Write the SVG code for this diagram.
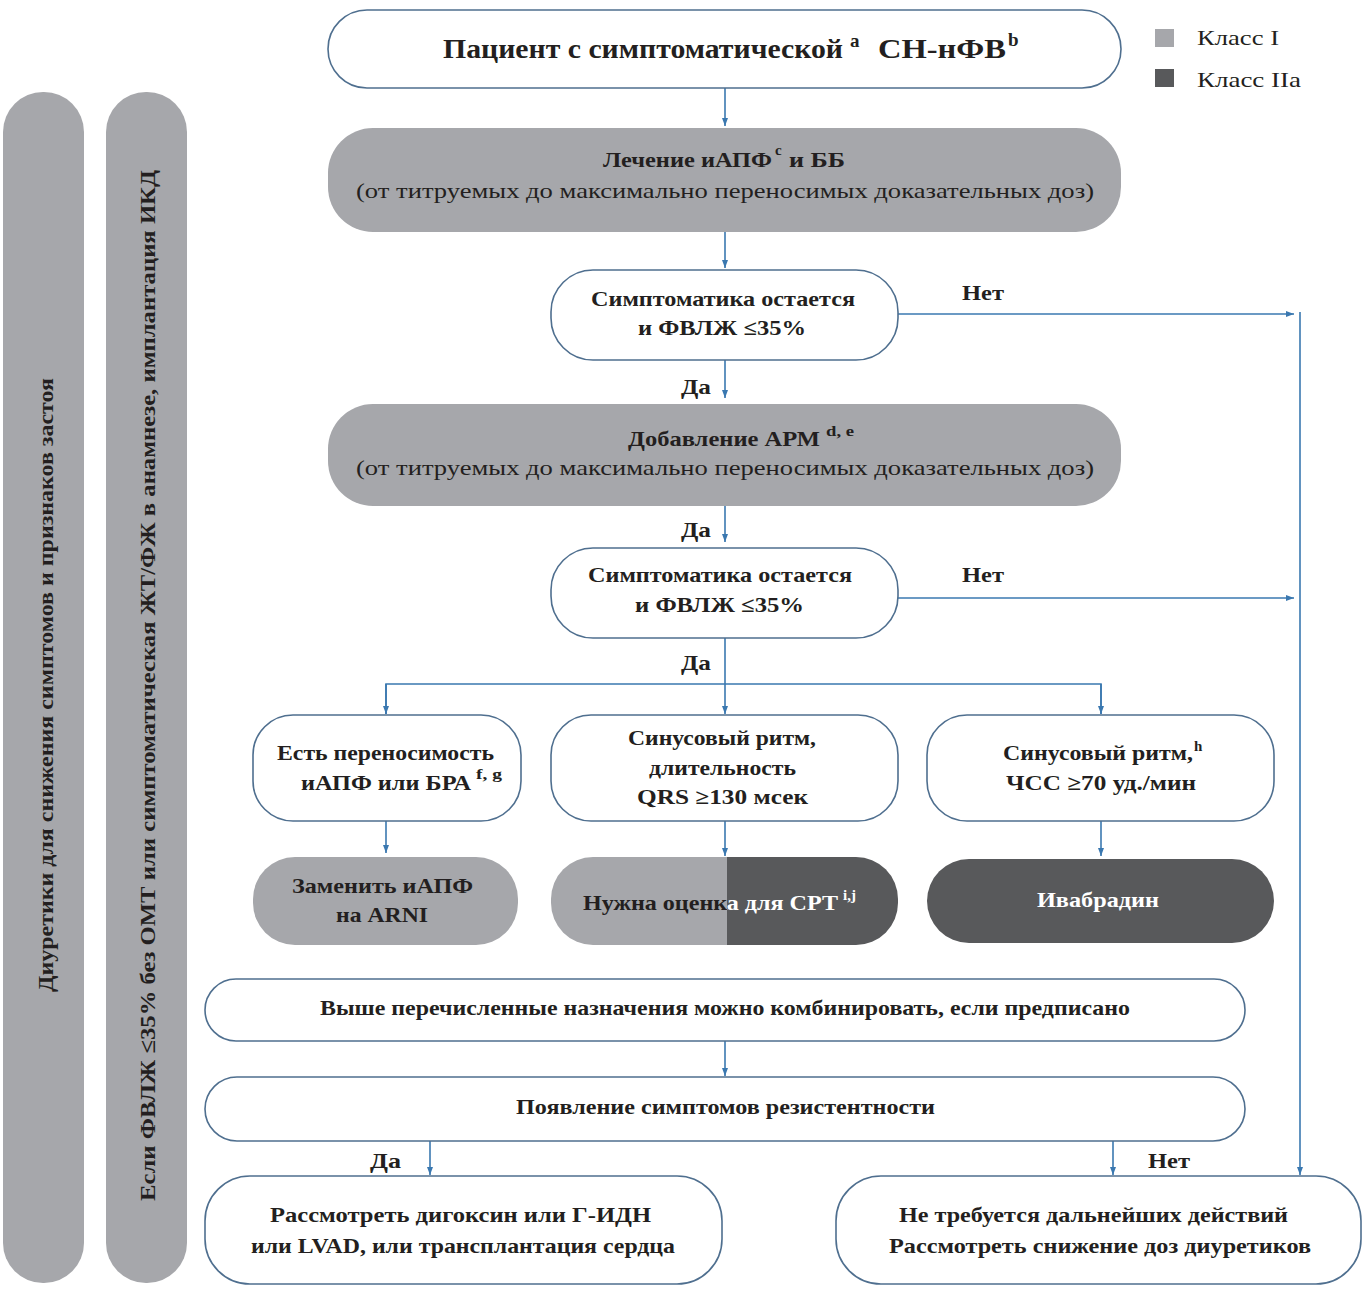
<svg xmlns="http://www.w3.org/2000/svg" width="1363" height="1290" viewBox="0 0 1363 1290">
<defs>
<style>
.box{fill:#fff;stroke:#4f6f8f;stroke-width:1.6}
.g1{fill:#a6a7ab}
.g2{fill:#58595b}
.t{font-family:"Liberation Serif","Times New Roman",serif;font-weight:bold;fill:#231f20}
.n{font-family:"Liberation Serif","Times New Roman",serif;font-weight:normal;fill:#231f20}
.w{fill:#fff}
.c{fill:none;stroke:#3a78b0;stroke-width:1.6}
</style>
<marker id="ah" viewBox="0 0 8 8" refX="8" refY="4" markerWidth="8" markerHeight="8" markerUnits="userSpaceOnUse" orient="auto">
<path d="M0,1 L8,4 L0,7 Z" fill="#3a78b0"/>
</marker>
<clipPath id="clipL"><rect x="540" y="850" width="187" height="100"/></clipPath>
<clipPath id="clipR"><rect x="727" y="850" width="180" height="100"/></clipPath>
</defs>
<rect width="1363" height="1290" fill="#fff"/>

<g id="legend">
<rect x="1155" y="29" width="19" height="18" class="g1"/>
<text x="1197" y="45" class="n" font-size="22" textLength="82" lengthAdjust="spacingAndGlyphs">Класс I</text>
<rect x="1155" y="69" width="19" height="18" class="g2"/>
<text x="1197" y="87" class="n" font-size="22" textLength="104" lengthAdjust="spacingAndGlyphs">Класс IIa</text>
</g>

<g id="sidebar1">
<rect x="3" y="92" width="81" height="1191" rx="40" class="g1"/>
<text transform="translate(53,992) rotate(-90)" class="t" font-size="20" textLength="614" lengthAdjust="spacingAndGlyphs">Диуретики для снижения симптомов и признаков застоя</text>
</g>
<g id="sidebar2">
<rect x="106" y="92" width="81" height="1191" rx="40" class="g1"/>
<text transform="translate(155,1201) rotate(-90)" class="t" font-size="22" textLength="1031" lengthAdjust="spacingAndGlyphs">Если ФВЛЖ ≤35% без ОМТ или симптоматическая ЖТ/ФЖ в анамнезе, имплантация ИКД</text>
</g>

<g id="connectors">
<line x1="725" y1="88" x2="725" y2="126" class="c" marker-end="url(#ah)"/>
<line x1="725" y1="232" x2="725" y2="268" class="c" marker-end="url(#ah)"/>
<line x1="725" y1="360" x2="725" y2="398" class="c" marker-end="url(#ah)"/>
<line x1="725" y1="506" x2="725" y2="542" class="c" marker-end="url(#ah)"/>
<line x1="898" y1="314" x2="1294" y2="314" class="c" marker-end="url(#ah)"/>
<line x1="898" y1="598" x2="1294" y2="598" class="c" marker-end="url(#ah)"/>
<line x1="1300" y1="312" x2="1300" y2="1175" class="c" marker-end="url(#ah)"/>
<line x1="725" y1="638" x2="725" y2="714" class="c" marker-end="url(#ah)"/>
<polyline points="386,714 386,684 1101,684 1101,714" class="c"/>
<line x1="386" y1="684" x2="386" y2="714" class="c" marker-end="url(#ah)"/>
<line x1="1101" y1="684" x2="1101" y2="714" class="c" marker-end="url(#ah)"/>
<line x1="386" y1="821" x2="386" y2="853" class="c" marker-end="url(#ah)"/>
<line x1="725" y1="821" x2="725" y2="856" class="c" marker-end="url(#ah)"/>
<line x1="1101" y1="821" x2="1101" y2="856" class="c" marker-end="url(#ah)"/>
<line x1="725" y1="1041" x2="725" y2="1076" class="c" marker-end="url(#ah)"/>
<line x1="430" y1="1141" x2="430" y2="1175" class="c" marker-end="url(#ah)"/>
<line x1="1113" y1="1141" x2="1113" y2="1175" class="c" marker-end="url(#ah)"/>
<text x="962" y="300" class="t" font-size="21" textLength="42" lengthAdjust="spacingAndGlyphs">Нет</text>
<text x="962" y="582" class="t" font-size="21" textLength="42" lengthAdjust="spacingAndGlyphs">Нет</text>
<text x="681" y="394" class="t" font-size="21" textLength="30" lengthAdjust="spacingAndGlyphs">Да</text>
<text x="681" y="537" class="t" font-size="21" textLength="30" lengthAdjust="spacingAndGlyphs">Да</text>
<text x="681" y="670" class="t" font-size="21" textLength="30" lengthAdjust="spacingAndGlyphs">Да</text>
<text x="370" y="1168" class="t" font-size="21" textLength="31" lengthAdjust="spacingAndGlyphs">Да</text>
<text x="1148" y="1168" class="t" font-size="21" textLength="42" lengthAdjust="spacingAndGlyphs">Нет</text>
</g>

<g id="n-patient">
<rect x="328" y="10" width="793" height="78" rx="39" class="box"/>
<text x="443" y="58" class="t" font-size="27" textLength="400" lengthAdjust="spacingAndGlyphs">Пациент с симптоматической</text>
<text x="850" y="47" class="t" font-size="19">a</text>
<text x="878" y="58" class="t" font-size="27" textLength="128" lengthAdjust="spacingAndGlyphs">СН-нФВ</text>
<text x="1008" y="46" class="t" font-size="19">b</text>
</g>

<g id="n-acei-bb">
<rect x="328" y="128" width="793" height="104" rx="45" class="g1"/>
<text x="603" y="167" class="t" font-size="22" textLength="169" lengthAdjust="spacingAndGlyphs">Лечение иАПФ</text>
<text x="775" y="155" class="t" font-size="15">c</text>
<text x="789" y="167" class="t" font-size="22" textLength="56" lengthAdjust="spacingAndGlyphs">и ББ</text>
<text x="356" y="198" class="n" font-size="22" textLength="738" lengthAdjust="spacingAndGlyphs">(от титруемых до максимально переносимых доказательных доз)</text>
</g>

<g id="n-dec1">
<rect x="551" y="270" width="347" height="90" rx="42" class="box"/>
<text x="591" y="306" class="t" font-size="21" textLength="264" lengthAdjust="spacingAndGlyphs">Симптоматика остается</text>
<text x="638" y="335" class="t" font-size="21" textLength="168" lengthAdjust="spacingAndGlyphs">и ФВЛЖ ≤35%</text>
</g>

<g id="n-mra">
<rect x="328" y="404" width="793" height="102" rx="45" class="g1"/>
<text x="628" y="446" class="t" font-size="22" textLength="192" lengthAdjust="spacingAndGlyphs">Добавление АРМ</text>
<text x="826" y="436" class="t" font-size="15" textLength="28" lengthAdjust="spacingAndGlyphs">d, e</text>
<text x="356" y="475" class="n" font-size="22" textLength="738" lengthAdjust="spacingAndGlyphs">(от титруемых до максимально переносимых доказательных доз)</text>
</g>

<g id="n-dec2">
<rect x="551" y="548" width="347" height="90" rx="42" class="box"/>
<text x="588" y="582" class="t" font-size="21" textLength="264" lengthAdjust="spacingAndGlyphs">Симптоматика остается</text>
<text x="635" y="612" class="t" font-size="21" textLength="169" lengthAdjust="spacingAndGlyphs">и ФВЛЖ ≤35%</text>
</g>

<g id="n-tolerate">
<rect x="253" y="715" width="268" height="106" rx="40" class="box"/>
<text x="277" y="760" class="t" font-size="21" textLength="217" lengthAdjust="spacingAndGlyphs">Есть переносимость</text>
<text x="301" y="790" class="t" font-size="21" textLength="170" lengthAdjust="spacingAndGlyphs">иАПФ или БРА</text>
<text x="476" y="779" class="t" font-size="15" textLength="26" lengthAdjust="spacingAndGlyphs">f, g</text>
</g>

<g id="n-qrs">
<rect x="551" y="715" width="347" height="106" rx="40" class="box"/>
<text x="628" y="745" class="t" font-size="21" textLength="188" lengthAdjust="spacingAndGlyphs">Синусовый ритм,</text>
<text x="649" y="775" class="t" font-size="21" textLength="147" lengthAdjust="spacingAndGlyphs">длительность</text>
<text x="637" y="804" class="t" font-size="21" textLength="171" lengthAdjust="spacingAndGlyphs">QRS ≥130 мсек</text>
</g>

<g id="n-hr">
<rect x="927" y="715" width="347" height="106" rx="40" class="box"/>
<text x="1003" y="760" class="t" font-size="21" textLength="190" lengthAdjust="spacingAndGlyphs">Синусовый ритм,</text>
<text x="1194" y="751" class="t" font-size="15">h</text>
<text x="1006" y="790" class="t" font-size="21" textLength="190" lengthAdjust="spacingAndGlyphs">ЧСС ≥70 уд./мин</text>
</g>

<g id="n-arni">
<rect x="253" y="857" width="265" height="88" rx="42" class="g1"/>
<text x="292" y="893" class="t" font-size="21" textLength="181" lengthAdjust="spacingAndGlyphs">Заменить иАПФ</text>
<text x="336" y="922" class="t" font-size="21" textLength="92" lengthAdjust="spacingAndGlyphs">на ARNI</text>
</g>

<g id="n-crt">
<rect x="551" y="857" width="347" height="88" rx="42" class="g1" clip-path="url(#clipL)"/>
<rect x="551" y="857" width="347" height="88" rx="42" class="g2" clip-path="url(#clipR)"/>
<g clip-path="url(#clipL)">
<text x="583" y="910" class="t" font-size="21" textLength="255" lengthAdjust="spacingAndGlyphs">Нужна оценка для СРТ</text>
</g>
<g clip-path="url(#clipR)">
<text x="583" y="910" class="t w" font-size="21" textLength="255" lengthAdjust="spacingAndGlyphs">Нужна оценка для СРТ</text>
<text x="843" y="900" class="t w" font-size="15">i,j</text>
</g>
</g>

<g id="n-ivabradine">
<rect x="927" y="859" width="347" height="84" rx="42" class="g2"/>
<text x="1037" y="907" class="t w" font-size="21" textLength="122" lengthAdjust="spacingAndGlyphs">Ивабрадин</text>
</g>

<g id="n-combine">
<rect x="205" y="979" width="1040" height="62" rx="31" class="box"/>
<text x="320" y="1015" class="t" font-size="21" textLength="810" lengthAdjust="spacingAndGlyphs">Выше перечисленные назначения можно комбинировать, если предписано</text>
</g>

<g id="n-resist">
<rect x="205" y="1077" width="1040" height="64" rx="32" class="box"/>
<text x="516" y="1114" class="t" font-size="21" textLength="419" lengthAdjust="spacingAndGlyphs">Появление симптомов резистентности</text>
</g>

<g id="n-digoxin">
<rect x="205" y="1176" width="517" height="108" rx="45" class="box"/>
<text x="270" y="1222" class="t" font-size="21" textLength="381" lengthAdjust="spacingAndGlyphs">Рассмотреть дигоксин или Г-ИДН</text>
<text x="251" y="1253" class="t" font-size="21" textLength="424" lengthAdjust="spacingAndGlyphs">или LVAD, или трансплантация сердца</text>
</g>

<g id="n-noaction">
<rect x="836" y="1176" width="525" height="108" rx="45" class="box"/>
<text x="899" y="1222" class="t" font-size="21" textLength="389" lengthAdjust="spacingAndGlyphs">Не требуется дальнейших действий</text>
<text x="889" y="1253" class="t" font-size="21" textLength="422" lengthAdjust="spacingAndGlyphs">Рассмотреть снижение доз диуретиков</text>
</g>
</svg>
